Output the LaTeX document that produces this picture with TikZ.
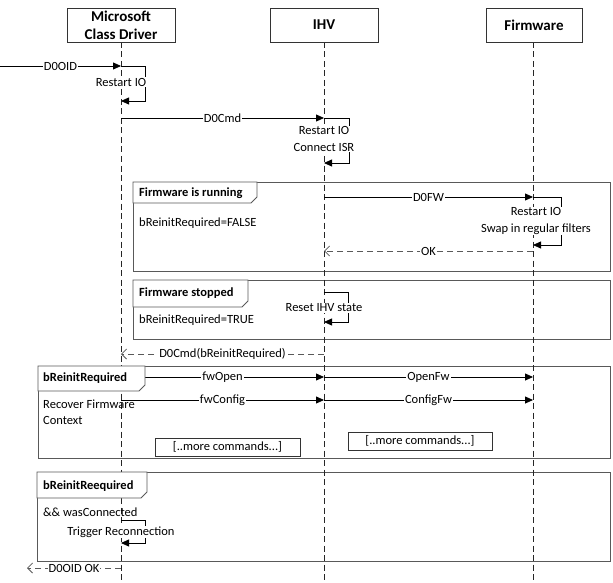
\documentclass[tikz,border=0pt]{standalone}
\usepackage{fontspec}
\setmainfont{Carlito}
\usetikzlibrary{arrows.meta}
\tikzset{
  head/.style={draw=black!80, fill=white, minimum width=108pt, minimum height=34pt, inner sep=0pt,
    font=\fontsize{15}{18}\selectfont\bfseries, align=center},
  lifeline/.style={draw=black!85, line width=0.8pt, dash pattern=on 6pt off 3.5pt},
  msg/.style={draw=black, line width=0.8pt, -{Triangle[length=8pt,width=7pt]}},
  ret/.style={draw=black!65, line width=0.8pt, dash pattern=on 6pt off 4pt, -{Straight Barb[length=5pt,width=10pt]}},
  lbl/.style={fill=white, inner sep=1pt, font=\fontsize{12.5}{16.5}\selectfont, align=center},
  txt/.style={inner sep=0pt, anchor=west, font=\fontsize{12.5}{16}\selectfont, align=left},
  tabtxt/.style={inner sep=0pt, anchor=west, font=\fontsize{12.5}{16}\selectfont\bfseries},
  frm/.style={draw=black!65, line width=0.8pt},
  tabbox/.style={draw=black!65, line width=0.8pt, fill=white},
  cmdbox/.style={draw=black!80, line width=0.8pt, fill=white, minimum height=18pt, inner sep=0pt,
    font=\fontsize{12.5}{16}\selectfont}
}
\begin{document}
\begin{tikzpicture}[x=1pt,y=-1pt]
\useasboundingbox (0,0) rectangle (613,583);
% frames
\draw[frm] (133,182) rectangle (610,271);
\draw[frm] (133,280) rectangle (610,339);
\draw[frm] (38,366) rectangle (610,458);
\draw[frm] (37,472) rectangle (610,561);
% heads and lifelines
\coordinate (mcdEnd) at (121,580);
\coordinate (ihvEnd) at (324,580);
\coordinate (fwEnd) at (533,580);
\draw[lifeline] (121,42) -- (mcdEnd);
\draw[lifeline] (324,42) -- (ihvEnd);
\draw[lifeline] (533,42) -- (fwEnd);
\node[head] (mcd) at (121,25) {Microsoft\\Class Driver};
\node[head] (ihv) at (324,25) {IHV};
\node[head, minimum width=96pt] (fw) at (534,25) {Firmware};
% D0OID
\coordinate (src) at (0,66);
\coordinate (a1) at (121,66);
\coordinate (a2) at (121,101);
\draw[msg] (src) -- node[lbl] (l1) {D0OID} (a1);
\draw[msg] (a1) -- ++(24,0) |- (a2);
\node[lbl] (l2) at (121,82) {Restart IO};
% D0Cmd
\coordinate (b1) at (121,118);
\coordinate (b2) at (324,118);
\coordinate (b3) at (324,163);
\draw[msg] (b1) -- node[lbl] (l3) {D0Cmd} (b2);
\draw[msg] (b2) -- ++(25,0) |- (b3);
\node[lbl] (l4) at (324,139) {Restart IO\\Connect ISR};
% Firmware is running
\coordinate (c1) at (324,197);
\coordinate (c2) at (533,197);
\coordinate (c3) at (533,245);
\coordinate (c4) at (533,251);
\coordinate (c5) at (324,251);
\draw[msg] (c1) -- node[lbl] (l5) {D0FW} (c2);
\draw[msg] (c2) -- ++(28,0) |- (c3);
\node[lbl] (l6) at (536,221) {Restart IO\\Swap in regular filters};
\draw[ret] (c4) -- node[lbl] (l7) {OK} (c5);
% Firmware stopped
\coordinate (d1) at (324,292);
\coordinate (d2) at (324,322);
\draw[msg] (d1) -- ++(24,0) |- (d2);
\node[lbl] (l8) at (324,308) {Reset IHV state};
\coordinate (d3) at (324,354);
\coordinate (d4) at (121,354);
\draw[ret] (d3) -- node[lbl] (l9) {D0Cmd(bReinitRequired)} (d4);
% bReinitRequired
\coordinate (e1) at (121,377);
\coordinate (e2) at (324,377);
\coordinate (e3) at (533,377);
\coordinate (f1) at (121,400);
\coordinate (f2) at (324,400);
\coordinate (f3) at (533,400);
\draw[msg] (e1) -- node[lbl] (l10) {fwOpen} (e2);
\draw[msg] (e2) -- node[lbl] (l11) {OpenFw} (e3);
\draw[msg] (f1) -- node[lbl] (l12) {fwConfig} (f2);
\draw[msg] (f2) -- node[lbl] (l13) {ConfigFw} (f3);
\node[cmdbox, minimum width=145pt] (mc1) at (227.5,447) {[..more commands...]};
\node[cmdbox, minimum width=144pt] (mc2) at (420,441) {[..more commands...]};
% bReinitReequired
\coordinate (g1) at (121,520);
\coordinate (g2) at (121,543);
\draw[msg] (g1) -- ++(24,0) |- (g2);
\node[lbl] (l14) at (121,532) {Trigger Reconnection};
\coordinate (h1) at (121,568);
\coordinate (h2) at (27,568);
\draw[ret] (h1) -- node[lbl] (l15) {D0OID OK} (h2);
% tabs
\draw[tabbox] (133,182) -- (257,182) -- (257,197) -- (251,203) -- (133,203) -- cycle;
\node[tabtxt] (t1) at (139,193) {Firmware is running};
\draw[tabbox] (133,280) -- (248,280) -- (248,301) -- (242,307) -- (133,307) -- cycle;
\node[tabtxt] (t2) at (139,293) {Firmware stopped};
\draw[tabbox] (38,366) -- (145,366) -- (145,385) -- (139,391) -- (38,391) -- cycle;
\node[tabtxt] (t3) at (43,378) {bReinitRequired};
\draw[tabbox] (37,472) -- (147,472) -- (147,492) -- (141,498) -- (37,498) -- cycle;
\node[tabtxt] (t4) at (43,486) {bReinitReequired};
% frame texts
\node[txt] (x1) at (139,223) {bReinitRequired=FALSE};
\node[txt] (x2) at (139,320) {bReinitRequired=TRUE};
\node[txt] (x3) at (43,412) {Recover Firmware\\Context};
\node[txt] (x4) at (43,512) {\&\& wasConnected};
\end{tikzpicture}
\end{document}
